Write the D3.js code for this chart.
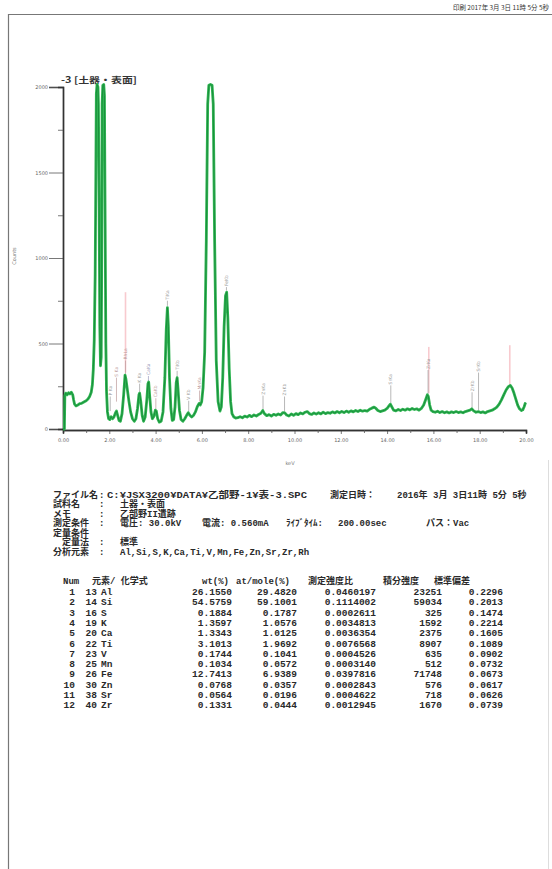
<!DOCTYPE html>
<html><head><meta charset="utf-8">
<script src="https://cdn.jsdelivr.net/npm/d3@7"></script>
<style>
html,body{margin:0;padding:0;background:#fff;}
svg{display:block;}
</style></head><body>
<svg id="c" width="552" height="869"></svg>
<script>
// ---------- DATA ----------
const chartTitle = "-3 [土器・表面]";
const printHeader = "印刷 2017年 3月 3日 11時 5分 5秒";
const xAxisLabel = "keV";
const yAxisLabel = "Counts";
const yTicks = [0, 500, 1000, 1500, 2000];
const yMinorTicks = [250, 750, 1250, 1750];
const xTicks = [0, 2, 4, 6, 8, 10, 12, 14, 16, 18, 20];
const xMinorTicks = [1, 3, 5, 7, 9, 11, 13, 15, 17, 19];

// spectrum [keV, counts] (tops of Al, Si, Fe Ka run off scale)
const spectrum = [
[0.00,0],[0.06,0],[0.08,195],[0.12,210],[0.18,200],[0.24,212],[0.30,205],[0.36,215],[0.42,200],[0.46,170],
[0.50,145],[0.56,135],[0.64,140],[0.72,148],[0.80,150],[0.90,158],[1.00,165],[1.08,175],[1.15,190],[1.22,215],
[1.27,260],[1.31,350],[1.35,520],[1.39,900],[1.42,1500],[1.44,1960],[1.47,2015],[1.51,2000],[1.53,1900],[1.56,1300],[1.59,600],[1.62,370],
[1.65,420],[1.67,900],[1.69,1900],[1.72,2010],[1.76,2015],[1.79,1950],[1.82,1200],[1.85,500],[1.88,220],[1.92,100],[1.97,60],[2.02,55],
[2.08,72],[2.14,60],[2.20,70],[2.27,95],[2.31,105],[2.36,80],[2.42,50],[2.48,45],[2.55,90],[2.62,200],
[2.68,315],[2.72,290],[2.78,230],[2.85,160],[2.92,100],[3.00,60],[3.08,45],[3.15,60],[3.22,120],[3.28,200],
[3.31,210],[3.36,160],[3.42,80],[3.48,45],[3.55,70],[3.62,170],[3.67,265],[3.70,275],[3.74,200],[3.80,100],
[3.86,60],[3.93,75],[3.99,110],[4.03,105],[4.09,60],[4.16,40],[4.24,45],[4.32,100],[4.40,300],[4.46,580],
[4.51,710],[4.55,600],[4.60,300],[4.66,120],[4.72,50],[4.78,55],[4.84,130],[4.89,270],[4.93,300],[4.97,230],
[5.03,110],[5.10,55],[5.18,45],[5.26,60],[5.34,80],[5.41,95],[5.48,80],[5.56,70],[5.64,80],[5.72,100],
[5.80,130],[5.88,150],[5.93,140],[5.99,160],[6.05,240],[6.12,450],[6.19,1100],[6.25,1900],[6.30,2010],[6.37,2015],[6.44,2010],[6.49,1900],[6.55,1100],
[6.62,400],[6.70,160],[6.78,105],[6.84,130],[6.90,300],[6.96,600],[7.02,780],[7.07,800],[7.12,650],[7.18,350],
[7.24,160],[7.30,90],[7.38,70],[7.46,64],[7.55,66],[7.65,72],[7.75,66],[7.85,75],[7.95,70],[8.05,80],
[8.15,72],[8.25,82],[8.35,76],[8.45,85],[8.55,92],[8.63,108],[8.70,90],[8.80,78],[8.90,84],[9.00,76],
[9.10,86],[9.20,80],[9.30,88],[9.40,82],[9.50,96],[9.58,94],[9.66,82],[9.76,76],[9.86,88],[9.96,80],
[10.06,90],[10.16,84],[10.26,94],[10.36,88],[10.46,98],[10.55,102],[10.64,90],[10.74,85],[10.84,94],[10.94,87],
[11.04,95],[11.14,88],[11.24,98],[11.34,90],[11.44,96],[11.54,92],[11.64,100],[11.74,94],[11.84,102],[11.94,95],
[12.04,103],[12.14,96],[12.24,105],[12.34,98],[12.44,106],[12.54,100],[12.64,108],[12.74,102],[12.84,110],[12.94,104],
[13.04,108],[13.14,105],[13.24,115],[13.34,122],[13.44,128],[13.52,120],[13.60,108],[13.70,102],[13.80,106],[13.90,110],
[14.00,120],[14.08,135],[14.14,145],[14.20,130],[14.28,110],[14.38,106],[14.48,114],[14.58,108],[14.68,116],[14.78,110],
[14.88,118],[14.98,112],[15.08,120],[15.18,114],[15.28,118],[15.38,110],[15.48,120],[15.58,140],[15.66,170],[15.74,200],
[15.78,190],[15.84,140],[15.90,110],[15.98,102],[16.08,98],[16.18,104],[16.28,96],[16.38,102],[16.48,95],[16.58,100],
[16.68,94],[16.78,100],[16.88,96],[16.98,102],[17.08,96],[17.18,100],[17.28,95],[17.38,102],[17.48,106],[17.58,110],
[17.66,118],[17.74,106],[17.84,98],[17.94,102],[18.04,96],[18.14,100],[18.24,94],[18.34,102],[18.44,106],[18.54,110],
[18.64,118],[18.74,128],[18.84,145],[18.94,170],[19.04,200],[19.14,228],[19.24,248],[19.32,255],[19.40,240],[19.48,210],
[19.56,175],[19.64,140],[19.72,118],[19.80,108],[19.86,112],[19.92,130],[19.98,155]
];

// peak markers [keV, label, label-bottom count, line-bottom count, colour]
const peakMarkers = [
[2.04,"P Ka",190,105,"#999"],[2.31,"S Ka",300,160,"#b99"],[2.70,"RhLa",400,290,"#b99"],
[3.31,"K Ka",265,215,"#999"],[3.69,"CaKa",310,280,"#99b"],[4.01,"CaKb",180,112,"#b99"],
[4.51,"TiKa",750,720,"#999"],[4.93,"TiKb",340,305,"#999"],[5.43,"V Kb",165,100,"#999"],
[5.90,"MnKa",225,160,"#b99"],[7.06,"FeKb",830,810,"#999"],[8.64,"ZnKa",195,115,"#999"],
[9.57,"ZnKb",190,100,"#999"],[14.16,"SrKa",255,150,"#999"],[15.77,"ZrKa",345,205,"#999"],
[17.67,"ZrKb",215,125,"#999"],[17.95,"SrKb",330,110,"#999"]
];
// Rh lines drawn in pink [keV, top count, bottom count]
const rhLines = [[2.70,800,330],[15.80,480,210],[19.30,490,260]];

// info block
const infoLabels = ["ファイル名","試料名","メモ","測定条件","定量条件","定量法","分析元素"];
const infoValues = ["C:¥JSX3200¥DATA¥乙部野-1¥表-3.SPC","土器・表面","乙部野II遺跡","電圧: 30.0kV","","標準","Al,Si,S,K,Ca,Ti,V,Mn,Fe,Zn,Sr,Zr,Rh"];
const measureDate = ["測定日時：","2016年 3月 3日11時 5分 5秒"];
const conditionExtras = ["電流: 0.560mA","ﾗｲﾌﾞﾀｲﾑ:","200.00sec","パス：Vac"];

// table
const tableHeaders = ["Num","元素/ 化学式","wt(%)","at/mole(%)","測定強度比","積分強度","標準偏差"];
const tableNums = ["1","2","3","4","5","6","7","8","9","10","11","12"];
const atomicNumbers = ["13","14","16","19","20","22","23","25","26","30","38","40"];
const elements = ["Al","Si","S","K","Ca","Ti","V","Mn","Fe","Zn","Sr","Zr"];
const wtPct = ["26.1550","54.5759","0.1884","1.3597","1.3343","3.1013","0.1744","0.1034","12.7413","0.0768","0.0564","0.1331"];
const atMolePct = ["29.4820","59.1001","0.1787","1.0576","1.0125","1.9692","0.1041","0.0572","6.9389","0.0357","0.0196","0.0444"];
const intensityRatio = ["0.0460197","0.1114002","0.0002611","0.0034813","0.0036354","0.0076568","0.0004526","0.0003140","0.0397816","0.0002843","0.0004622","0.0012945"];
const integratedIntensity = ["23251","59034","325","1592","2375","8907","635","512","71748","576","718","1670"];
const stdDev = ["0.2296","0.2013","0.1474","0.2214","0.1605","0.1089","0.0902","0.0732","0.0673","0.0617","0.0626","0.0739"];

// ---------- DRAW ----------
const svg = d3.select("#c");
svg.append("rect").attr("width",552).attr("height",869).attr("fill","#fff");

// page frame
svg.append("line").attr("x1",8).attr("x2",552).attr("y1",14.5).attr("y2",14.5).attr("stroke","#777").attr("stroke-width",1.2);
svg.append("line").attr("x1",8.5).attr("x2",8.5).attr("y1",14).attr("y2",869).attr("stroke","#777").attr("stroke-width",1.2);
svg.append("line").attr("x1",548.5).attr("x2",548.5).attr("y1",460).attr("y2",869).attr("stroke","#ddd").attr("stroke-width",1);
svg.append("text").attr("x",453).attr("y",10).attr("font-size","6.5px")
  .attr("font-family","'Noto Sans CJK JP',sans-serif").attr("fill","#333")
  .attr("textLength",96).attr("lengthAdjust","spacingAndGlyphs").text(printHeader);

const x = d3.scaleLinear().domain([0,20]).range([63,526]);
const y = d3.scaleLinear().domain([0,2000]).range([429,87]);

const axisFont = "'DejaVu Sans',sans-serif";
// y axis
const gy = svg.append("g").attr("transform","translate(63,0)");
gy.call(d3.axisLeft(y).tickValues(yTicks).tickSize(14).tickPadding(1).tickFormat(d3.format("d")));
gy.append("g").call(d3.axisLeft(y).tickValues(yMinorTicks).tickSize(5).tickFormat(""));
gy.selectAll("path.domain").attr("stroke","#333").attr("stroke-width",1.4);
gy.selectAll("line").attr("stroke","#555").attr("stroke-width",0.8);
gy.selectAll("text").attr("font-size","5px").attr("font-family",axisFont).attr("fill","#666");

// x axis
const gx = svg.append("g").attr("transform","translate(0,430)");
gx.call(d3.axisBottom(x).tickValues(xTicks).tickSize(4).tickPadding(4).tickFormat(d3.format(".2f")));
gx.append("g").call(d3.axisBottom(x).tickValues(xMinorTicks).tickSize(3).tickFormat(""));
gx.selectAll("path.domain").attr("stroke","#333").attr("stroke-width",1.4);
gx.selectAll("line").attr("stroke","#555").attr("stroke-width",0.8);
gx.selectAll("text").attr("font-size","5px").attr("font-family",axisFont).attr("fill","#666");

svg.append("text").attr("x",290).attr("y",465).attr("text-anchor","middle").attr("font-size","5px")
  .attr("font-family",axisFont).attr("fill","#777").text(xAxisLabel);
svg.append("text").attr("transform","translate(16,256) rotate(-90)").attr("text-anchor","middle").attr("font-size","5px")
  .attr("font-family",axisFont).attr("fill","#777").text(yAxisLabel);

svg.append("text").attr("x",61).attr("y",83).attr("font-size","8.5px").attr("font-weight","bold")
  .attr("font-family","'Noto Sans CJK JP',sans-serif").attr("fill","#333")
  .attr("textLength",76).attr("lengthAdjust","spacingAndGlyphs").text(chartTitle);

// Rh pink lines
svg.append("g").selectAll("line").data(rhLines).join("line")
  .attr("x1",d=>x(d[0])).attr("x2",d=>x(d[0])).attr("y1",d=>y(d[1])).attr("y2",d=>y(d[2]))
  .attr("stroke","#f3a0a8").attr("stroke-width",1.6).attr("opacity",0.55);

// peak markers
const gm = svg.append("g");
gm.selectAll("line").data(peakMarkers).join("line")
  .attr("x1",d=>x(d[0])).attr("x2",d=>x(d[0])).attr("y1",d=>y(d[2])).attr("y2",d=>y(d[3]))
  .attr("stroke",d=>d[4]).attr("stroke-width",0.7);
gm.selectAll("text").data(peakMarkers).join("text")
  .attr("transform",d=>`translate(${x(d[0])+1.6},${y(d[2])-1}) rotate(-90)`)
  .attr("font-size","4.5px").attr("font-family",axisFont).attr("fill",d=>d[4]).text(d=>d[1]);

// spectrum
const line = d3.line().x(d=>x(d[0])).y(d=>y(d[1]));
svg.append("path").datum(spectrum).attr("d",line).attr("fill","none")
  .attr("stroke","#2fb552").attr("stroke-width",2.8).attr("stroke-linejoin","round");
svg.append("path").datum(spectrum).attr("d",line).attr("fill","none")
  .attr("stroke","#178a3a").attr("stroke-width",0.9).attr("stroke-linejoin","round");

// info block
const tf = "'Liberation Mono','Noto Sans CJK JP',monospace";
function txt(xp, yp, s, anchor, fs){
  return svg.append("text").attr("x",xp).attr("y",yp).attr("text-anchor",anchor||"start")
    .attr("font-size",(fs||9)+"px").attr("font-weight","bold").attr("font-family",tf).attr("fill","#2a2a2a").text(s);
}
const infoY = [497.5,507,516.5,526,535.5,545,554.5];
infoLabels.forEach((s,i)=>{
  txt(i===5?62:53, infoY[i], s);
  if(i!==4) txt(99, infoY[i], ":");
  if(infoValues[i]) {
    const t = txt(i===0?107:120, infoY[i], infoValues[i]);
    if(i===0) t.attr("textLength",200).attr("lengthAdjust","spacingAndGlyphs");
  }
});
txt(330, infoY[0], measureDate[0]);
txt(397, infoY[0], measureDate[1]);
txt(202, infoY[3], conditionExtras[0]);
txt(286, infoY[3], conditionExtras[1]);
txt(338, infoY[3], conditionExtras[2]);
txt(426, infoY[3], conditionExtras[3]);

// table
const headerY = 584;
const hx = [63,92,202,236,308,383,434];
tableHeaders.forEach((h,i)=>txt(hx[i], headerY, h));
const rowY = i => 595 + i*10.3;
const cols = [
  [tableNums,75,"end"],[atomicNumbers,97,"end"],[elements,101,"start"],[wtPct,232,"end"],
  [atMolePct,297,"end"],[intensityRatio,376,"end"],[integratedIntensity,442,"end"],[stdDev,503,"end"]
];
cols.forEach(([arr,xp,anc])=>arr.forEach((v,i)=>txt(xp,rowY(i),v,anc,9.5)));
</script>
</body></html>
